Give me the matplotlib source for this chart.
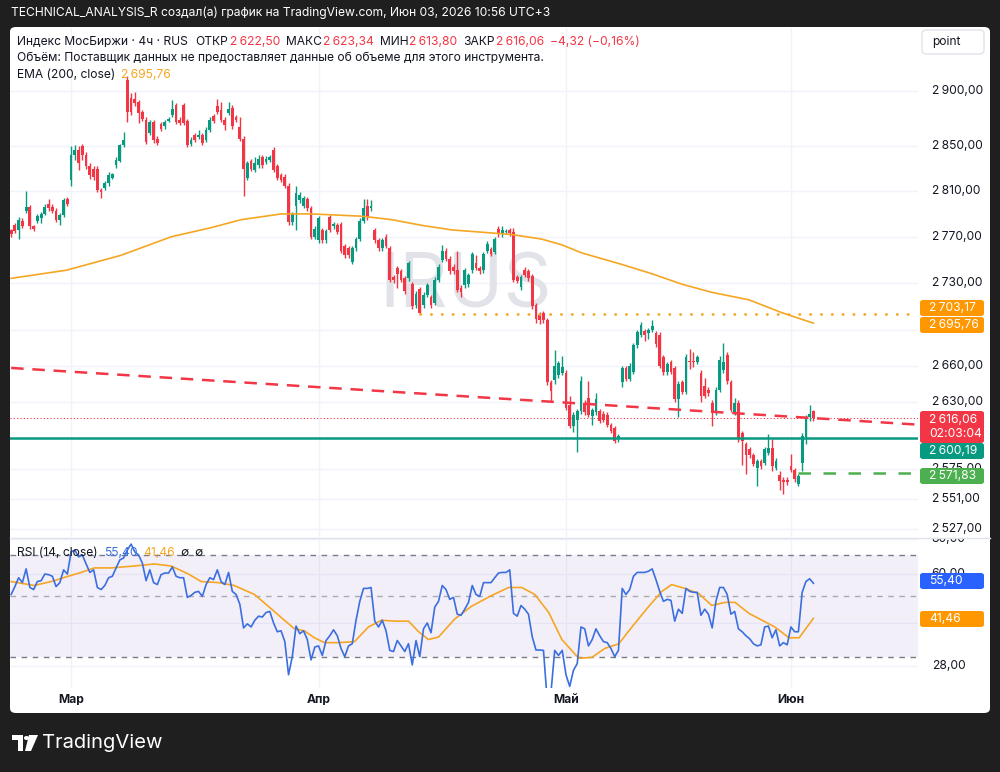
import matplotlib.pyplot as plt
from matplotlib.patches import FancyBboxPatch, Polygon, Circle

plt.rcParams['font.family'] = ['Inter', 'DejaVu Sans']

W, H = 1000, 772

# ---- data (4h candles, index 0..214) ----
opens = [2775.5, 2780, 2776, 2784, 2793, 2796, 2779, 2784, 2786, 2790,
         2799, 2796, 2793, 2785, 2789, 2803, 2820, 2842, 2847, 2850,
         2842, 2832, 2830, 2830, 2811, 2813, 2817, 2822, 2833, 2837,
         2851, 2910, 2894, 2893, 2890, 2881, 2874, 2862, 2872, 2857,
         2870, 2868, 2873, 2878, 2887, 2874, 2887, 2873, 2852, 2860,
         2858, 2860, 2856, 2865, 2877, 2886, 2883, 2874, 2880, 2885,
         2876, 2867, 2857, 2822, 2837, 2829, 2833, 2840, 2836, 2838,
         2847, 2832, 2824, 2823, 2815, 2783, 2797, 2802, 2797, 2803,
         2795, 2770, 2767, 2776, 2767, 2787, 2779, 2780, 2781, 2762,
         2760, 2748, 2760, 2768, 2784, 2797, 2795, 2776, 2767, 2760,
         2770, 2760, 2735, 2743, 2740, 2734, 2734, 2729, 2711, 2725,
         2711, 2720, 2718, 2713, 2733, 2750, 2758, 2751, 2744, 2741,
         2726, 2728, 2729, 2741, 2747, 2743, 2741, 2758, 2759, 2757,
         2777, 2772, 2774, 2776, 2774, 2735, 2727, 2741, 2740, 2736,
         2711, 2703, 2704, 2698, 2646, 2648, 2652, 2654, 2654, 2627,
         2610, 2615, 2622, 2629, 2633, 2618, 2621, 2622, 2620, 2619,
         2611, 2608, 2599, 2646, 2658, 2649, 2655, 2677, 2686, 2689,
         2687, 2690, 2687, 2686, 2667, 2655, 2663, 2658, 2632, 2646,
         2638, 2664, 2664, 2663, 2654, 2643, 2640, 2629, 2621, 2640,
         2656, 2669, 2646, 2621, 2629, 2604, 2595, 2591, 2586, 2576,
         2581, 2580, 2588, 2592, 2576, 2570, 2566, 2566, 2577, 2574,
         2563, 2580, 2601, 2617, 2622.50]
highs = [2777, 2782, 2787, 2786, 2810, 2798, 2780, 2790, 2792, 2799,
         2803, 2799, 2795, 2791, 2804, 2805, 2850, 2851, 2850, 2852,
         2845, 2835, 2832, 2832, 2813, 2819, 2827, 2826, 2840, 2852,
         2863, 2914, 2898, 2899, 2892, 2883, 2876, 2874, 2874, 2859,
         2872, 2874, 2876, 2892, 2889, 2876, 2889, 2875, 2858, 2862,
         2865, 2862, 2867, 2876, 2879, 2893, 2890, 2876, 2890, 2887,
         2878, 2876, 2859, 2837, 2839, 2840, 2842, 2842, 2841, 2842,
         2849, 2834, 2826, 2825, 2817, 2792, 2815, 2809, 2806, 2805,
         2797, 2779, 2788, 2778, 2777, 2789, 2783, 2782, 2783, 2764,
         2762, 2762, 2770, 2786, 2803, 2803, 2802, 2778, 2769, 2769,
         2772, 2762, 2737, 2745, 2742, 2736, 2749, 2731, 2723, 2727,
         2722, 2730, 2720, 2735, 2746, 2763, 2760, 2753, 2746, 2758,
         2728, 2743, 2739, 2757, 2754, 2745, 2757, 2766, 2761, 2770,
         2779, 2779, 2777, 2778, 2778, 2737, 2737, 2744, 2742, 2738,
         2713, 2705, 2706, 2700, 2648, 2673, 2664, 2668, 2656, 2635,
         2621, 2624, 2651, 2631, 2647, 2625, 2637, 2624, 2622, 2621,
         2612, 2610, 2603, 2660, 2660, 2662, 2679, 2690, 2697, 2691,
         2692, 2698, 2689, 2688, 2669, 2663, 2665, 2660, 2647, 2648,
         2670, 2674, 2671, 2669, 2656, 2650, 2642, 2631, 2642, 2668,
         2679, 2671, 2648, 2633, 2631, 2606, 2597, 2593, 2588, 2583,
         2583, 2593, 2603, 2599, 2584, 2573, 2568, 2568, 2587, 2576,
         2571, 2604, 2619, 2627, 2623.34]
lows = [2770, 2773, 2768, 2778, 2791, 2777, 2775, 2782, 2782, 2789,
        2793, 2791, 2783, 2780, 2787, 2797, 2815, 2838, 2829, 2838,
        2830, 2821, 2820, 2809, 2804, 2811, 2815, 2821, 2831, 2836,
        2849, 2872, 2878, 2886, 2871, 2873, 2852, 2860, 2853, 2851,
        2864, 2866, 2872, 2876, 2870, 2869, 2869, 2849, 2850, 2854,
        2857, 2851, 2854, 2863, 2871, 2879, 2872, 2865, 2878, 2866,
        2872, 2855, 2806, 2820, 2828, 2827, 2831, 2831, 2834, 2836,
        2827, 2820, 2818, 2813, 2780, 2780, 2776, 2800, 2795, 2793,
        2768, 2768, 2765, 2765, 2765, 2774, 2777, 2772, 2756, 2752,
        2752, 2746, 2758, 2766, 2782, 2785, 2793, 2765, 2758, 2758,
        2760, 2731, 2730, 2726, 2731, 2721, 2732, 2708, 2709, 2703.2,
        2709, 2718, 2709, 2711, 2731, 2748, 2749, 2738, 2738, 2722,
        2718, 2726, 2727, 2739, 2741, 2738, 2739, 2756, 2753, 2755,
        2770, 2770, 2772, 2771, 2731, 2730, 2724, 2735, 2732, 2708,
        2696, 2695, 2696, 2644, 2630, 2645, 2650, 2652, 2623, 2608,
        2605, 2589, 2620, 2619, 2617, 2611, 2619, 2612, 2613, 2609,
        2604, 2596, 2597, 2642, 2647, 2647, 2653, 2675, 2684, 2681,
        2682, 2688, 2676, 2658, 2652, 2652, 2653, 2630, 2617, 2636,
        2636, 2657, 2659, 2661, 2630, 2633, 2635, 2610, 2619, 2638,
        2654, 2645, 2621, 2619, 2597, 2578, 2571, 2584, 2577, 2561,
        2575, 2578, 2586, 2573, 2574, 2558, 2555, 2562, 2572, 2564,
        2561, 2573, 2595, 2614, 2613.80]
closes = [2772.5, 2775, 2785, 2779, 2796, 2779, 2777, 2788, 2790, 2796,
          2795, 2793, 2785, 2789, 2802, 2799, 2842, 2847, 2835, 2842,
          2832, 2824, 2823, 2811, 2809, 2817, 2824, 2825, 2838, 2851,
          2856, 2881, 2881, 2889, 2880, 2875, 2854, 2872, 2856, 2853,
          2866, 2872, 2875, 2884, 2872, 2871, 2871, 2851, 2856, 2856,
          2860, 2853, 2865, 2874, 2873, 2881, 2874, 2869, 2884, 2868,
          2874, 2857, 2830, 2835, 2830, 2835, 2839, 2833, 2839, 2840,
          2829, 2822, 2820, 2815, 2783, 2790, 2808, 2807, 2804, 2795,
          2770, 2777, 2786, 2767, 2775, 2776, 2781, 2774, 2758, 2754,
          2754, 2760, 2768, 2784, 2795, 2787, 2797, 2767, 2760, 2767,
          2762, 2733, 2733, 2738, 2733, 2723, 2747, 2710, 2721, 2704,
          2720, 2728, 2711, 2733, 2744, 2758, 2751, 2740, 2740, 2724,
          2722, 2741, 2737, 2755, 2743, 2740, 2755, 2764, 2755, 2768,
          2772, 2776, 2775, 2773, 2733, 2732, 2735, 2737, 2734, 2710,
          2699, 2698, 2698, 2646, 2639, 2660, 2662, 2659, 2625, 2610,
          2619, 2622, 2647, 2621, 2619, 2623, 2632, 2614, 2615, 2611,
          2606, 2598, 2602, 2658, 2649, 2660, 2677, 2688, 2694, 2686,
          2690, 2693, 2678, 2660, 2655, 2661, 2655, 2632, 2645, 2638,
          2667, 2663, 2663, 2667, 2635, 2635, 2637, 2621, 2640, 2665,
          2663, 2647, 2623, 2629, 2599, 2598, 2586, 2586, 2579, 2581,
          2577, 2591, 2592, 2577, 2581, 2565, 2564, 2564, 2574, 2567,
          2569, 2602, 2617, 2620, 2616.06]

rsi = [50.5, 53.9, 58, 55.7, 62.4, 53.5, 52.6, 56.2, 56.6, 59.8,
       59.5, 58.7, 53.9, 55.7, 61.9, 59.8, 71.8, 72.9, 68.9, 70,
       65, 60.6, 61.9, 53.5, 52.6, 54.4, 58, 58.7, 62.9, 67.2,
       68.3, 72.9, 76.6, 71.8, 70, 65.5, 56.6, 61.9, 55.7, 54.8,
       59.5, 60.3, 60.3, 63.4, 58.7, 58, 58, 49.3, 50.1, 51.4,
       51.8, 49.7, 54.8, 58, 57.1, 61.9, 56.2, 54.8, 60.6, 51.8,
       50.5, 46.6, 38.3, 39.6, 38.6, 40.8, 42.2, 41.9, 43.5, 43.9,
       39.9, 37.1, 37.4, 34.2, 26, 30.2, 38.9, 36.5, 37.4, 34.8,
       29.4, 32.7, 33, 30.5, 34.5, 35.9, 37.7, 35.9, 32.3, 30.2,
       33, 33.6, 40.8, 47.7, 53.1, 53.1, 53.5, 40.5, 38.6, 40.8,
       37.4, 31.8, 31.5, 34.5, 33, 31.5, 33.6, 28.2, 34.5, 30.2,
       38, 39.9, 36.8, 45.5, 47.7, 54.4, 52.6, 48.5, 49.3, 42.9,
       42.5, 44.7, 47.3, 54.4, 50.5, 49.7, 55.7, 55.7, 55.7, 58,
       60.3, 60.6, 60.6, 61.9, 43.2, 42.2, 46.1, 44.7, 42.9, 35.6,
       31.9, 31.9, 31.8, 21, 22.5, 31.8, 30.5, 31.8, 26, 23.6,
       27, 28.5, 38.6, 38, 33, 34.8, 38, 35.9, 34.2, 33.9,
       32.3, 30.2, 31.8, 53.1, 50.5, 52.6, 58.7, 60.6, 60.6, 60.6,
       61.2, 62.4, 57.1, 51.8, 47.7, 48.5, 48.1, 40.5, 44.7, 43.2,
       53.1, 51.8, 51.4, 51.4, 42.5, 44.7, 42.9, 38.3, 47.7, 53.5,
       53.5, 50.5, 42.9, 43.9, 38, 37.1, 35.9, 35, 33.6, 33,
       33.3, 38.6, 38.9, 35.3, 37.7, 33, 33.9, 33.3, 38.6, 37.1,
       37.1, 51.4, 56.2, 57.5, 55.4]

rsi_ma_idx = [0, 6.1, 10.7, 15.2, 18.7, 22.2, 26.7, 32.8, 38.2, 42.7,
              47.3, 50.7, 55.3, 59.5, 64.9, 68.6, 72.9, 75.6, 78.2, 80.9,
              83.6, 87.3, 91.6, 95.3, 98.8, 102.3, 106, 108.7, 111.3, 114,
              118.3, 122.8, 128.2, 132.7, 136.2, 139.7, 143.4, 146.9, 151.4, 154.9,
              158.3, 162.1, 165.6, 170.1, 173.6, 176.2, 179.7, 183.4, 186.9, 190.4,
              193.1, 196.8, 200.3, 203.7, 207.5, 210.2, 214]
rsi_ma = [56.2, 54.4, 56.2, 58.7, 60.6, 62.9, 62.9, 63.9, 65, 63.9,
          59.8, 56.2, 55.7, 54.4, 50.5, 45.8, 40.8, 38, 37.4, 35.3,
          33.9, 33.9, 34.2, 38.6, 40.8, 40.5, 40.5, 37.1, 34.8, 35.5,
          41.2, 45.8, 50.1, 53.5, 53.5, 50.5, 43.5, 34.8, 29.8, 30,
          32.3, 33.6, 38.6, 45.8, 51.8, 54.8, 53.1, 50.9, 46.1, 47.3,
          47.3, 43.2, 40.8, 38.6, 35.3, 35.3, 41.46]

ema_idx = [0, 14.7, 29.4, 42.7, 53.4, 61.4, 72.1, 80.1, 93.5, 101.5, 109.5,
           117.5, 125.5, 133.5, 141.5, 146.9, 152.2, 162.9, 170.9, 178.9,
           186.9, 196.8, 205.6, 214]
ema = [2734, 2741, 2754, 2770, 2778, 2785, 2790, 2790, 2788, 2785, 2780,
       2776, 2774, 2772, 2768, 2763, 2756, 2746, 2738, 2729,
       2722, 2715.6, 2704.6, 2695.76]

price_grid = [2900, 2850, 2810, 2770, 2730, 2690, 2660, 2630, 2600, 2575, 2551, 2527]
price_labels = [2900, 2850, 2810, 2770, 2730, 2660, 2630, 2575, 2551, 2527]
rsi_grid = [80, 60, 40, 28]
rsi_labels = [80, 60, 28]
months = ['Мар', 'Апр', 'Май', 'Июн']
month_idx = [16.0, 82.1, 148.0, 208.1]

trend_idx = [0, 241.9]
trend_val = [2658, 2611]
support = 2600.19
dotted_level = 2703.17
low_level = 2571.83
last_close = 2616.06

UP, DOWN = '#089981', '#f23645'
ORANGE = '#f5a623'
BLUE = '#3b6fe0'
DARK = '#131722'


def fx(x):
    return x / W


def fy(y):
    return 1 - y / H


def fmt(v):
    return f'{v:,.2f}'.replace(',', '\u2009').replace('.', ',')


fig = plt.figure(figsize=(10, 7.72), dpi=100, facecolor='#1f1f1f')
fig.patches.append(FancyBboxPatch((fx(10), fy(713)), fx(980), fy(27) - fy(713),
                                  boxstyle='round,pad=0,rounding_size=0.006',
                                  transform=fig.transFigure, fc='white', ec='none', zorder=-5))

ax = fig.add_axes([fx(10), fy(537), fx(908), fy(28) - fy(537)])
ax_r = fig.add_axes([fx(10), fy(688), fx(908), fy(538) - fy(688)], sharex=ax)
ps = fig.add_axes([fx(918), fy(537), fx(72), fy(28) - fy(537)], sharey=ax)
rs = fig.add_axes([fx(918), fy(688), fx(72), fy(538) - fy(688)], sharey=ax_r)

for a in (ax, ax_r):
    a.set_yscale('log')
ax.set_ylim(2520.3, 2958.1)
ax_r.set_ylim(23.3, 80.56)
ax.set_xlim(-0.3, 241.9)
for a in (ax, ax_r, ps, rs):
    a.set_axis_off()

# grid
for p in price_grid:
    ax.axhline(p, color='#f0f3fa', lw=1, zorder=0)
for v in rsi_grid:
    ax_r.axhline(v, color='#f0f3fa', lw=1, zorder=0)
for m in month_idx:
    ax.axvline(m, color='#f0f3fa', lw=1, zorder=0)
    ax_r.axvline(m, color='#f0f3fa', lw=1, zorder=0)

# watermark
ax.text(0.502, 0.49, 'IRUS', transform=ax.transAxes, fontsize=54, color='#e1e3e8',
        ha='center', va='center', zorder=1)

# candles
idx = list(range(len(closes)))
cols = [UP if c >= o else DOWN for o, c in zip(opens, closes)]
ax.vlines(idx, lows, highs, colors=cols, lw=1, zorder=3)
ax.bar(idx, [max(abs(c - o), 0.5) for o, c in zip(opens, closes)],
       bottom=[min(o, c) for o, c in zip(opens, closes)], width=0.74, color=cols, zorder=4)

ax.plot(ema_idx, ema, color=ORANGE, lw=1.2, zorder=5)
ax.plot(trend_idx, trend_val, color=DOWN, lw=1.8, dashes=(5, 3.5), zorder=5)
ax.axhline(last_close, color=DOWN, lw=0.8, ls=(0, (1, 2)), zorder=2)
ax.axhline(support, color=UP, lw=1.8, zorder=5)
ax.plot([109, 241.9], [dotted_level] * 2, color=ORANGE, lw=2, ls=(0, (0.1, 3.8)),
        dash_capstyle='round', zorder=5)
ax.plot([210, 241.9], [low_level] * 2, color='#4caf50', lw=1.8, dashes=(5, 5), zorder=5)

# RSI pane
ax_r.fill_between([-0.3, 241.9], 30, 70, color='#7e57c2', alpha=0.09, lw=0)
for lv, al in ((70, 1), (50, 0.6), (30, 1)):
    ax_r.axhline(lv, color='#787b86', lw=1, dashes=(4, 4), alpha=al)
ax_r.plot(idx, rsi, color=BLUE, lw=1.2, zorder=4)
ax_r.plot(rsi_ma_idx, rsi_ma, color=ORANGE, lw=1.2, zorder=3)

fig.add_artist(plt.Line2D([fx(10), fx(990)], [fy(537.5)] * 2, color='#e0e3eb', lw=1))

# price scale
tr = ps.get_yaxis_transform()
for p in price_labels:
    ps.text(0.19, p, fmt(p), transform=tr, va='center', ha='left', fontsize=8.7, color=DARK)
trr = rs.get_yaxis_transform()
for v in rsi_labels:
    rs.text(0.19, v, fmt(v), transform=trr, va='center', ha='left', fontsize=8.7,
            color=DARK, clip_on=True)


def tag(y, h, s, fc):
    # label box on the price scale, y = centre in picture pixels
    fig.patches.append(FancyBboxPatch((fx(920), fy(y + h / 2)), fx(64), h / H,
                                      boxstyle='round,pad=0,rounding_size=0.003',
                                      transform=fig.transFigure, fc=fc, ec='none', zorder=3))
    fig.text(fx(929), fy(y), s, color='white', fontsize=8.7, ha='left', va='center',
             linespacing=1.15, zorder=4)


tag(308, 16, fmt(2703.17), '#ff9800')
tag(325, 16, fmt(2695.76), '#ff9800')
tag(427, 32, fmt(2616.06) + '\n02:03:04', DOWN)
tag(451, 16, fmt(2600.19), UP)
tag(476, 16, fmt(2571.83), '#4caf50')
tag(581, 16, '55,40', '#2962ff')
tag(619, 16, '41,46', '#ff9800')

fig.patches.append(FancyBboxPatch((fx(922), fy(54)), fx(62), fy(30) - fy(54),
                                  boxstyle='round,pad=0,rounding_size=0.005',
                                  transform=fig.transFigure, fc='white', ec='#e0e3eb', lw=1))
fig.text(fx(946), fy(42), 'point', fontsize=8.7, color=DARK, ha='center', va='center')

# month labels
for m, lab in zip(month_idx, months):
    ax_r.text(m, -(700 - 688) / 150, lab, transform=ax_r.get_xaxis_transform(), fontsize=8.7,
              weight='bold', color=DARK, ha='center', va='center', clip_on=False)

# legends
renderer = fig.canvas.get_renderer()


def chain(x, y, parts, size=8.7):
    for s, c, gap in parts:
        t = fig.text(fx(x), fy(y), s, color=c, fontsize=size, ha='left', va='center')
        x = t.get_window_extent(renderer).x1 + gap


chain(17, 42, [('Индекс МосБиржи · 4ч · RUS', DARK, 8), ('ОТКР', DARK, 1),
               (fmt(2622.50), DOWN, 6), ('МАКС', DARK, 1), (fmt(2623.34), DOWN, 6),
               ('МИН', DARK, 1), (fmt(2613.80), DOWN, 6), ('ЗАКР', DARK, 1),
               (fmt(2616.06), DOWN, 6), ('\u22124,32 (\u22120,16%)', DOWN, 0)])
chain(17, 58, [('Объём: Поставщик данных не предоставляет данные об объеме для этого инструмента.', DARK, 0)])
chain(17, 75, [('EMA (200, close)', DARK, 6), (fmt(2695.76), ORANGE, 0)])
chain(17, 553, [('RSI (14, close)', DARK, 6), ('55,40', BLUE, 6), ('41,46', ORANGE, 6),
                ('\u2205', DARK, 5), ('\u2205', DARK, 0)])

# header and footer
fig.text(fx(11), fy(13), 'TECHNICAL_ANALYSIS_R создал(а) график на TradingView.com, Июн 03, 2026 10:56 UTC+3',
         color='white', fontsize=8.7, ha='left', va='center')
logo = [[(12, 735), (23, 735), (23, 751), (18, 751), (18, 740), (12, 740)],
        [(29, 735), (38, 735), (31, 751), (25, 751)]]
for pts in logo:
    fig.patches.append(Polygon([(fx(a), fy(b)) for a, b in pts], closed=True,
                               transform=fig.transFigure, fc='white', ec='none'))
fig.patches.append(Circle((fx(26.5), fy(738)), 2.6 / W, transform=fig.transFigure, fc='white'))
fig.text(fx(42), fy(743), 'TradingView', color='white', fontsize=14.5, ha='left', va='center')

fig.savefig('out.png', dpi=100, facecolor=fig.get_facecolor())
